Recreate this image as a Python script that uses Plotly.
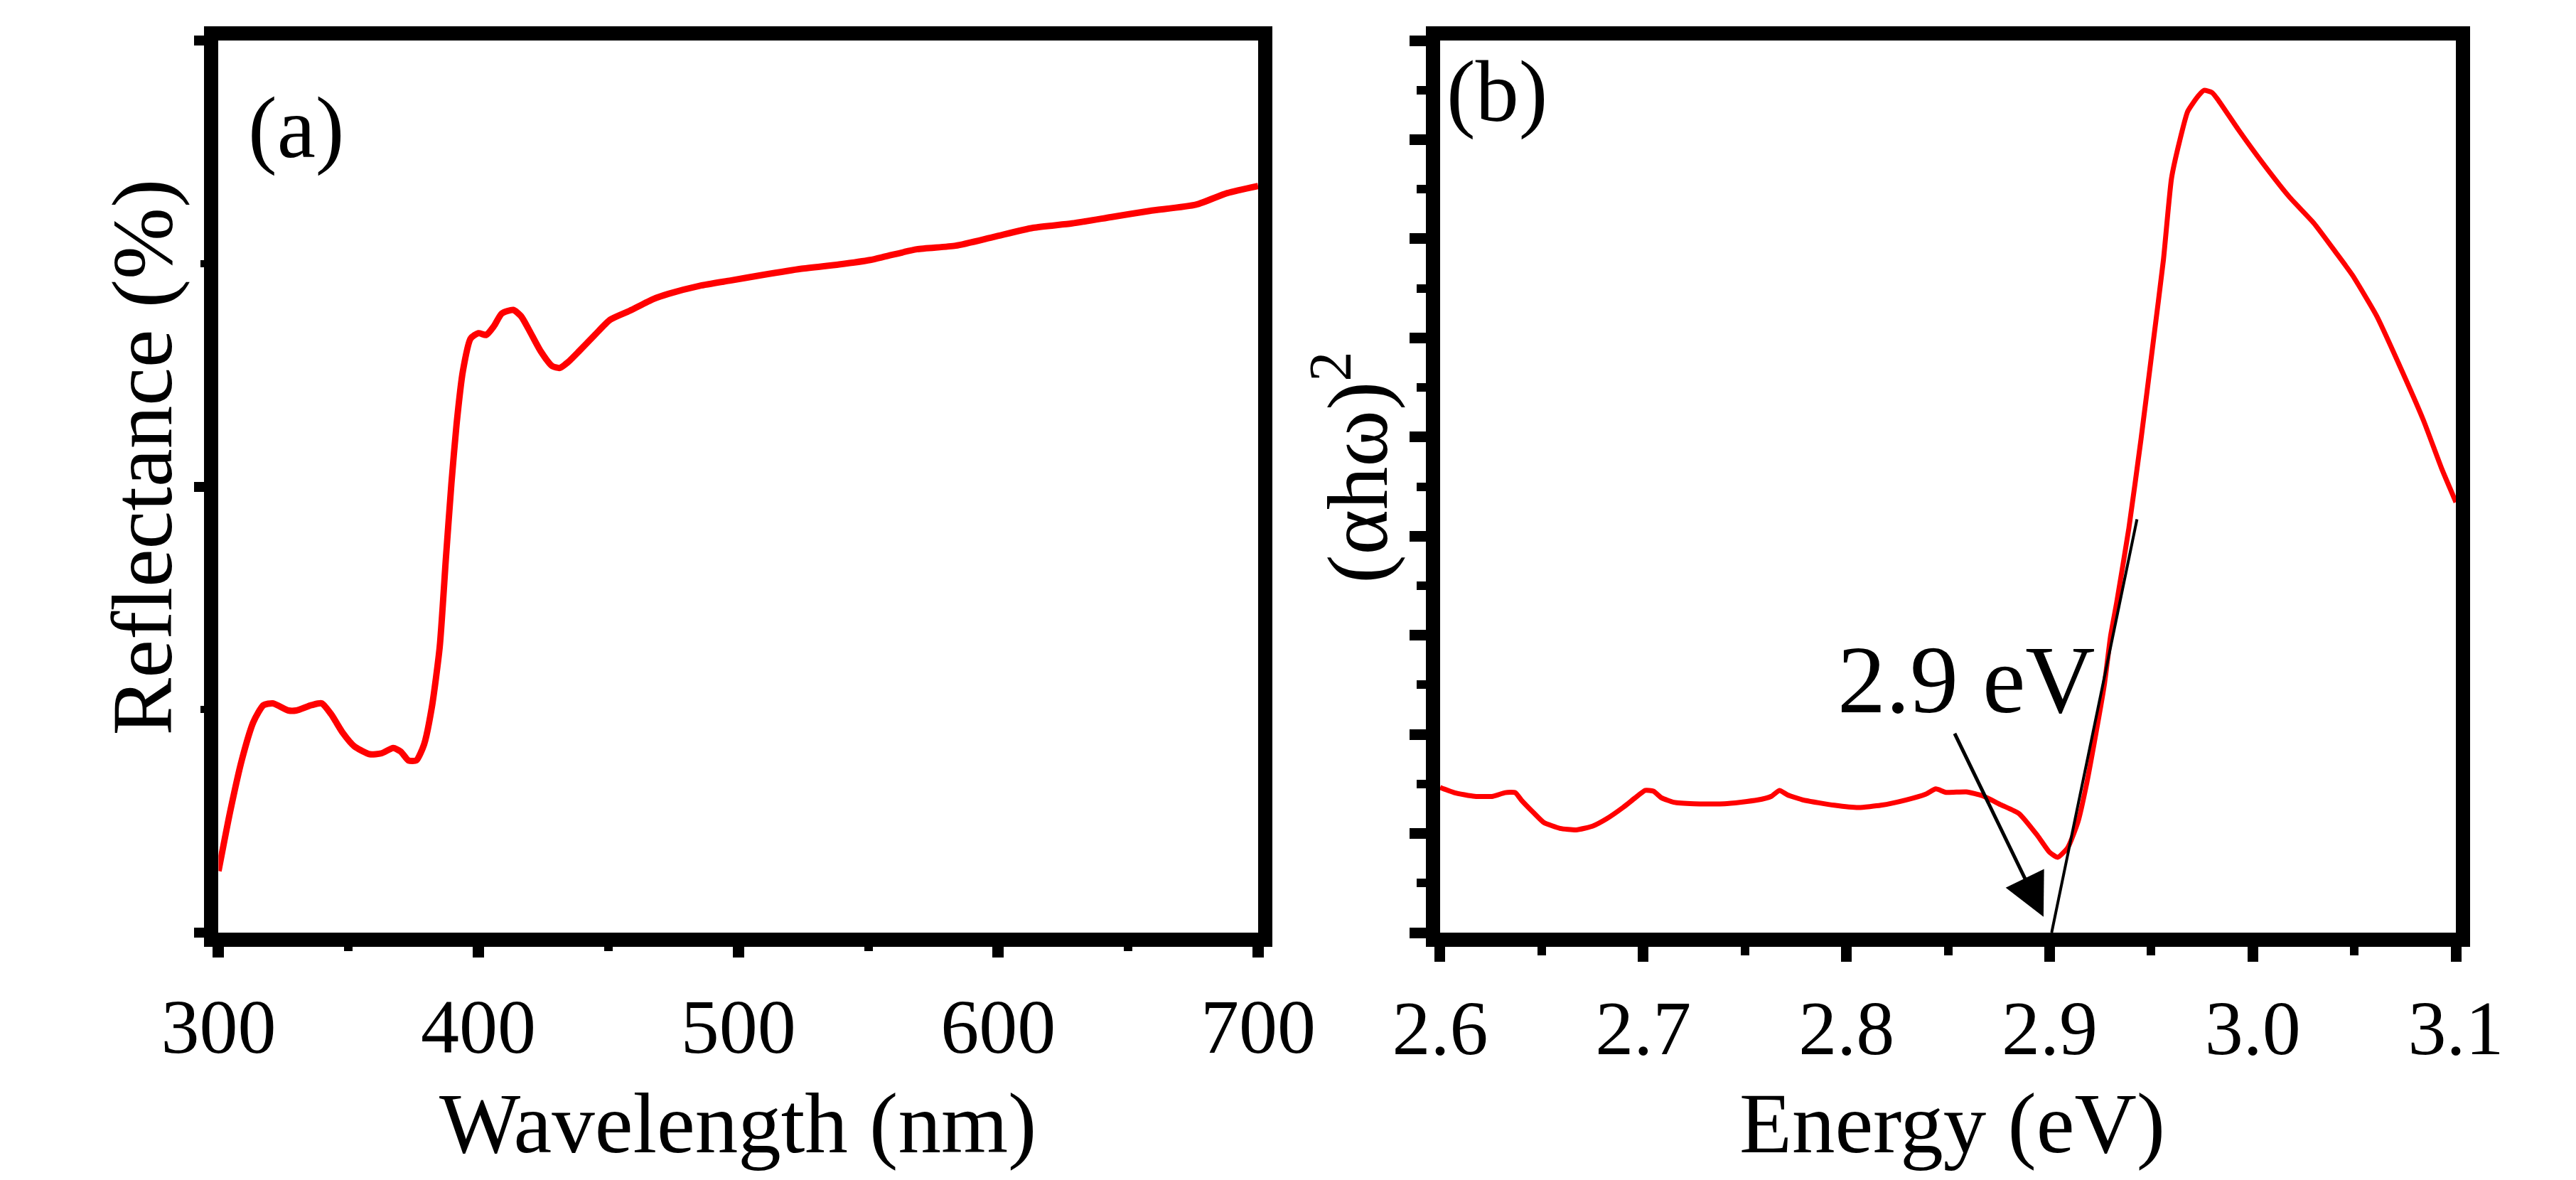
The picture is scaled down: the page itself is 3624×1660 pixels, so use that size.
import plotly.graph_objects as go

# ---- Panel (a): diffuse reflectance ----
wavelength_nm = [300, 304.5, 309, 313.4, 317.3, 320.9, 326.9, 329.9, 335.8, 339.7, 343.3, 347.8,
                 352.2, 358.2, 362.7, 367.2, 370.1, 373.1, 376.1, 379.1, 382.1, 385.1, 387.5,
                 389.6, 391.6, 394.0, 397.0, 400.0, 403.0, 406.0, 409.0, 413.4, 416.4, 419.4,
                 423.9, 428.4, 431.3, 434.3, 438.8, 444.8, 450.7, 458.2, 467.2, 473.1, 485.1,
                 497.0, 509.0, 523.9, 538.8, 550.7, 556.7, 568.7, 583.6, 598.5, 613.4, 628.4,
                 643.3, 658.2, 676.1, 688.1, 700]
reflectance = [6.9, 13.6, 19.4, 23.6, 25.5, 25.7, 24.9, 24.9, 25.5, 25.7, 24.5, 22.4,
               20.9, 20.0, 20.1, 20.7, 20.3, 19.3, 19.3, 21.1, 25.3, 32.0, 42.0,
               50.3, 57.0, 62.9, 66.6, 67.2, 67.0, 68.0, 69.4, 69.8, 69.1, 67.6,
               65.2, 63.5, 63.3, 63.9, 65.2, 67.0, 68.7, 69.7, 71.0, 71.6, 72.5,
               73.1, 73.7, 74.4, 74.9, 75.4, 75.8, 76.6, 77.0, 78.0, 79.0, 79.5,
               80.2, 80.9, 81.6, 82.9, 83.7]

# ---- Panel (b): Tauc plot ----
energy_ev = [2.600, 2.607, 2.617, 2.626, 2.632, 2.637, 2.640, 2.646, 2.651, 2.659, 2.667,
             2.675, 2.682, 2.690, 2.696, 2.701, 2.705, 2.709, 2.715, 2.725, 2.740, 2.756,
             2.763, 2.767, 2.771, 2.779, 2.794, 2.806, 2.817, 2.829, 2.839, 2.844, 2.849,
             2.859, 2.867, 2.876, 2.885, 2.894, 2.900, 2.904, 2.909, 2.914, 2.918, 2.922,
             2.927, 2.930, 2.933, 2.939, 2.945, 2.951, 2.956, 2.960, 2.964, 2.968, 2.973,
             2.976, 2.980, 2.983, 2.993, 3.005, 3.018, 3.030, 3.041, 3.049, 3.061, 3.072,
             3.084, 3.093, 3.100]
ahw_sq = [1.465, 1.412, 1.375, 1.375, 1.412, 1.412, 1.337, 1.210, 1.112, 1.052, 1.037,
          1.074, 1.149, 1.262, 1.360, 1.435, 1.427, 1.360, 1.315, 1.300, 1.300, 1.337,
          1.375, 1.435, 1.390, 1.337, 1.285, 1.262, 1.285, 1.337, 1.397, 1.450, 1.415,
          1.420, 1.380, 1.290, 1.200, 0.980, 0.810, 0.760, 0.860, 1.120, 1.480, 1.920,
          2.510, 2.990, 3.328, 4.079, 4.981, 5.958, 6.784, 7.610, 7.986, 8.286, 8.437,
          8.497, 8.474, 8.399, 8.098, 7.760, 7.422, 7.159, 6.859, 6.634, 6.220, 5.732,
          5.169, 4.680, 4.342]

tangent_x = [2.901, 2.943]
tangent_y = [0.0, 4.17]

arrow_tail = (2.853, 2.02)
arrow_tip = (2.897, 0.16)
gap_label = "2.9 eV"
gap_label_pos = (2.859, 2.55)

x_ticks_a = [300, 400, 500, 600, 700]
x_ticks_b = [2.6, 2.7, 2.8, 2.9, 3.0, 3.1]
x_ticktext_b = ["2.6", "2.7", "2.8", "2.9", "3.0", "3.1"]

W, H = 3624, 1660
FONT = "Liberation Serif"
RED = "#ff0000"

fig = go.Figure()
fig.add_trace(go.Scatter(x=wavelength_nm, y=reflectance, mode="lines",
                         line=dict(color=RED, width=9, shape="spline", smoothing=0.6),
                         xaxis="x", yaxis="y", showlegend=False))
fig.add_trace(go.Scatter(x=energy_ev, y=ahw_sq, mode="lines",
                         line=dict(color=RED, width=7, shape="spline", smoothing=0.5),
                         xaxis="x2", yaxis="y2", showlegend=False))
fig.add_trace(go.Scatter(x=tangent_x, y=tangent_y, mode="lines",
                         line=dict(color="black", width=4),
                         xaxis="x2", yaxis="y2", showlegend=False))

LW = 20
tickfont = dict(family=FONT, size=108, color="black")
base = dict(showline=True, linewidth=LW, linecolor="black", mirror=True,
            showgrid=False, zeroline=False, ticks="outside", tickcolor="black",
            tickfont=tickfont)


def minor(vals, length, width):
    return dict(ticks="outside", ticklen=length, tickwidth=width, tickcolor="black",
                tickmode="array", tickvals=vals)


ydom = [1 - 1312 / H, 1 - 57 / H]
fig.update_layout(
    width=W, height=H,
    margin=dict(l=0, r=0, t=0, b=0),
    paper_bgcolor="white", plot_bgcolor="white",
    xaxis=dict(domain=[237 / W, 1768 / W], range=[300, 700], tickmode="array",
               tickvals=x_ticks_a, anchor="y", ticklen=15, tickwidth=16,
               minor=minor([350, 450, 550, 650], 6, 12),
               ticklabelstandoff=4, **base),
    yaxis=dict(domain=ydom, range=[0, 100], tickmode="array", tickvals=[0, 50, 100],
               showticklabels=False, anchor="x", ticklen=14, tickwidth=14,
               minor=minor([25, 75], 5, 10), **base),
    xaxis2=dict(domain=[2036 / W, 3532 / W], range=[2.6, 3.1], tickmode="array",
                tickvals=x_ticks_b, ticktext=x_ticktext_b, anchor="y2",
                ticklen=21, tickwidth=15,
                minor=minor([2.65, 2.75, 2.85, 2.95, 3.05], 12, 12),
                ticklabelstandoff=0, **base),
    yaxis2=dict(domain=ydom, range=[0, 9], tickmode="array", tickvals=list(range(0, 10)),
                showticklabels=False, anchor="x2", ticklen=23, tickwidth=15,
                minor=minor([i + 0.5 for i in range(9)], 13, 12), **base),
)

ann_font = dict(family=FONT, color="black")


def paper_text(text, px, py, size, angle=0):
    fig.add_annotation(text=text, x=px / W, y=1 - py / H, xref="paper", yref="paper",
                       xanchor="center", yanchor="middle", showarrow=False,
                       textangle=angle, font=dict(size=size, **ann_font))


paper_text("(a)", 351, 180, 122)
paper_text("(b)", 2120, 129, 122)
paper_text("Wavelength (nm)", 1002, 1580, 121)
paper_text("Energy (eV)", 2790, 1580, 121)
paper_text("Reflectance (%)", 125, 643, 121, -90)
paper_text("(αhω)<sup>2</sup>", 1905, 658, 121, -90)

fig.add_annotation(text=gap_label, x=gap_label_pos[0], y=gap_label_pos[1], xref="x2",
                   yref="y2", xanchor="center", yanchor="middle", showarrow=False,
                   font=dict(size=136, **ann_font))
fig.add_annotation(text="", x=arrow_tip[0], y=arrow_tip[1], ax=arrow_tail[0],
                   ay=arrow_tail[1], xref="x2", yref="y2", axref="x2", ayref="y2",
                   showarrow=True, arrowhead=2, arrowsize=2.4, arrowwidth=5,
                   arrowcolor="black")

fig.write_html("out.html", config={"displayModeBar": False},
               post_script="document.body.style.margin='0';")
